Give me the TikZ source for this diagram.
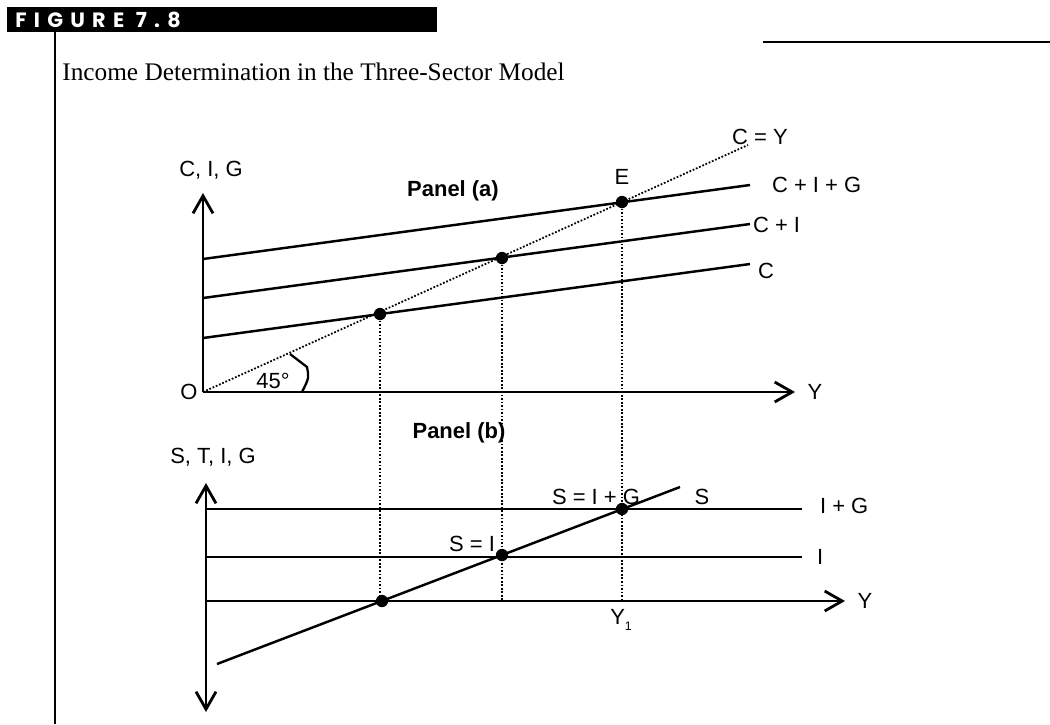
\documentclass[tikz,border=0pt]{standalone}
\usepackage{fontspec}
\setmainfont{Liberation Serif}
\setsansfont{Liberation Sans}
\newfontfamily\tagfont[LetterSpace=35]{Poppins}
\usetikzlibrary{arrows.meta, positioning, calc}

\begin{document}
\begin{tikzpicture}[x=0.02cm, y=0.02cm,
    >={Straight Barb[length=3.5mm, width=4mm]},
    axis/.style={line width=1.6pt},
    curve/.style={line width=1.4pt},
    guide/.style={line width=1pt, dash pattern=on 1pt off 1pt},
    lbl/.style={font=\sffamily\fontsize{12.5}{14}\selectfont, inner sep=1pt},
    paneltitle/.style={lbl, font=\sffamily\bfseries\fontsize{12.5}{14}\selectfont},
    dot/.style={circle, fill=black, inner sep=0pt, minimum size=7pt}]
  \useasboundingbox (0,0) rectangle (1050,-724);

  % header bar and rules
  \fill (7,-7) rectangle (437,-32);
  \node[anchor=west, text=white, inner sep=0pt,
    font=\tagfont\bfseries\fontsize{11.8}{13}\selectfont]
    (figtag) at (15,-19.5) {FIGURE 7.8};
  \draw[line width=1.7pt] (55,-32) -- (55,-724);
  \draw[line width=1.7pt] (763,-42) -- (1050,-42);
  \node[anchor=base west, inner sep=0pt, font=\fontsize{14.4}{17}\selectfont]
    (title) at (62,-80) {Income Determination in the Three-Sector Model};

  % panel (a)
  \coordinate (o1) at (203,-392);
  \coordinate (ytop1) at (203,-193);
  \coordinate (xend1) at (795,-392);
  \coordinate (diag) at (748,-145);
  \draw[axis, ->] (o1) -- (ytop1);
  \draw[axis, ->] (o1) -- (xend1);
  \draw[guide] (o1) -- (diag);

  \coordinate (cigL) at (203,-259);  \coordinate (cigR) at (750,-185);
  \coordinate (ciL) at (203,-298);   \coordinate (ciR) at (750,-224);
  \coordinate (cL) at (203,-338);    \coordinate (cR) at (750,-264);
  \draw[curve] (cigL) -- (cigR);
  \draw[curve] (ciL) -- (ciR);
  \draw[curve] (cL) -- (cR);

  \draw[line width=1.3pt] (290,-354) -- (307,-367)
    .. controls (309,-378) .. (302,-392);

  \node[lbl] (axisA) at (211,-170) {C, I, G};
  \node[paneltitle] (panelA) at (453,-191) {Panel (a)};
  \node[lbl, left=2pt of o1] (orig) {O};
  \node[lbl, right=6pt of xend1] (yA) {Y};
  \node[lbl] (angle) at (273,-381) {45°};
  \node[lbl] (cyLbl) at (760,-137) {C = Y};
  \node[lbl, anchor=west] (cigLbl) at (770,-185) {C + I + G};
  \node[lbl, anchor=west] (ciLbl) at (751,-225) {C + I};
  \node[lbl, anchor=west] (cLbl) at (756,-271) {C};

  \node[dot] (dA) at (380,-314) {};
  \node[dot] (dB) at (502,-258) {};
  \node[dot] (dE) at (622,-202) {};
  \node[lbl, above=5pt of dE] (eLbl) {E};

  % panel (b)
  \coordinate (o2) at (206,-601);
  \coordinate (ytop2) at (206,-483);
  \coordinate (ybot2) at (206,-712);
  \coordinate (xend2) at (845,-601);
  \draw[axis, <->] (ytop2) -- (ybot2);
  \draw[axis, ->] (o2) -- (xend2);

  \coordinate (igL) at (206,-509);  \coordinate (igR) at (802,-509);
  \coordinate (iL) at (206,-557);   \coordinate (iR) at (802,-557);
  \coordinate (sL) at (217,-664);   \coordinate (sR) at (680,-487);
  \draw[curve] (igL) -- (igR);
  \draw[curve] (iL) -- (iR);
  \draw[curve] (sL) -- (sR);

  \draw[guide] (dA) -- (dA |- o2);
  \draw[guide] (dB) -- (dB |- o2);
  \draw[guide] (dE) -- (dE |- o2);

  \node[dot] (sA) at (382,-601) {};
  \node[dot] (sB) at (502,-555) {};
  \node[dot] (sE) at (622,-509) {};

  \node[paneltitle] (panelB) at (459,-433) {Panel (b)};
  \node[lbl] (axisB) at (213,-457) {S, T, I, G};
  \node[lbl, anchor=east] (siLbl) at (497,-544) {S = I};
  \node[lbl] (sigLbl) at (596,-497) {S = I + G};
  \node[lbl] (sLbl) at (702,-497) {S};
  \node[lbl, anchor=west] (igLbl) at (818,-506) {I + G};
  \node[lbl, anchor=west] (iLbl) at (815,-557) {I};
  \node[lbl, right=6pt of xend2] (yB) {Y};
  \node[lbl] (y1Lbl) at (621,-620) {Y\raisebox{-0.5ex}{\scriptsize 1}};
\end{tikzpicture}
\end{document}
